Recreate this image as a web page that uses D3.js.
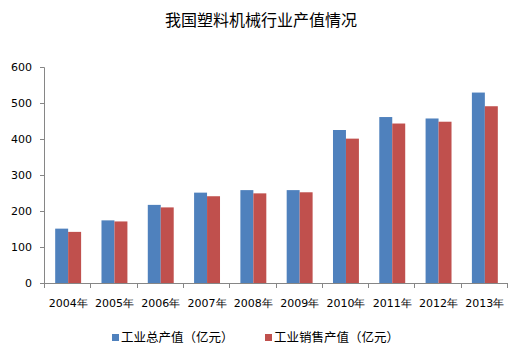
<!DOCTYPE html>
<html>
<head>
<meta charset="utf-8">
<script src="https://cdn.jsdelivr.net/npm/d3@7"></script>
<style>
  body { margin: 0; background: #fff; }
  text { font-family: "DejaVu Sans", Verdana, sans-serif; fill: #000; }
  .cjk { font-family: "Noto Sans CJK SC", sans-serif; }
</style>
</head>
<body>
<script>
// Chart data
var years = ["2004年", "2005年", "2006年", "2007年", "2008年", "2009年", "2010年", "2011年", "2012年", "2013年"];
var totalOutput = [151, 174, 217, 251, 258, 258, 425, 461, 457, 529];
var salesOutput = [142, 171, 210, 241, 249, 252, 401, 443, 448, 491];
var seriesNames = ["工业总产值（亿元）", "工业销售产值（亿元）"];
var yTicks = [0, 100, 200, 300, 400, 500, 600];

var colours = ["#4F81BD", "#C0504D"];

var width = 516, height = 361;
var svg = d3.select("body").append("svg")
    .attr("width", width)
    .attr("height", height);

// plot area edges
var plotLeft = 44, plotRight = 507, plotTop = 67, plotBottom = 283;

// bars sit about a pixel right of the band centre in the original
var x = d3.scaleBand().domain(years).range([plotLeft + 1, plotRight + 1]).paddingInner(0.44).paddingOuter(0.22);
var xSub = d3.scaleBand().domain([0, 1]).range([0, x.bandwidth()]);
var y = d3.scaleLinear().domain([0, 600]).range([plotBottom, plotTop]);

// Title
svg.append("text")
    .attr("class", "cjk")
    .attr("x", 261)
    .attr("y", 26)
    .attr("text-anchor", "middle")
    .style("font-size", "16px")
    .text("我国塑料机械行业产值情况");

// Bars
var series = [totalOutput, salesOutput];
series.forEach(function(values, s) {
    svg.selectAll(".bar" + s)
        .data(values)
        .enter().append("rect")
        .attr("class", "bar" + s)
        .attr("x", function(d, i) { return x(years[i]) + xSub(s); })
        .attr("y", function(d) { return y(d); })
        .attr("width", xSub.bandwidth())
        .attr("height", function(d) { return plotBottom - y(d); })
        .attr("fill", colours[s]);
});

// Y axis
var yAxis = svg.append("g")
    .attr("transform", "translate(" + plotLeft + ",0)")
    .call(d3.axisLeft(y).tickValues(yTicks).tickSize(4).tickPadding(8));
yAxis.select(".domain").attr("stroke", "#868686");
yAxis.selectAll(".tick line").attr("stroke", "#868686");
yAxis.selectAll(".tick text").style("font-size", "11px");

// X axis: tick marks at category boundaries
var xAxis = svg.append("g");
xAxis.append("line")
    .attr("x1", plotLeft).attr("x2", plotRight)
    .attr("y1", plotBottom + 0.5).attr("y2", plotBottom + 0.5)
    .attr("stroke", "#868686");
var step = (plotRight - plotLeft) / years.length;
d3.range(years.length + 1).forEach(function(i) {
    var px = Math.round(plotLeft + i * step) + 0.5;
    xAxis.append("line")
        .attr("x1", px).attr("x2", px)
        .attr("y1", plotBottom).attr("y2", plotBottom + 5)
        .attr("stroke", "#868686");
});
xAxis.selectAll(".xlabel")
    .data(years)
    .enter().append("text")
    .attr("class", "xlabel")
    .attr("x", function(d) { return x(d) + x.bandwidth() / 2; })
    .attr("y", 307)
    .attr("text-anchor", "middle")
    .style("font-size", "11px")
    .text(function(d) { return d; });

// Legend
var legendX = [112, 265];
seriesNames.forEach(function(name, s) {
    svg.append("rect")
        .attr("x", legendX[s])
        .attr("y", 334)
        .attr("width", 7)
        .attr("height", 7)
        .attr("fill", colours[s]);
    svg.append("text")
        .attr("class", "cjk")
        .attr("x", legendX[s] + 9)
        .attr("y", 342)
        .style("font-size", "12.5px")
        .text(name);
});
</script>
</body>
</html>
